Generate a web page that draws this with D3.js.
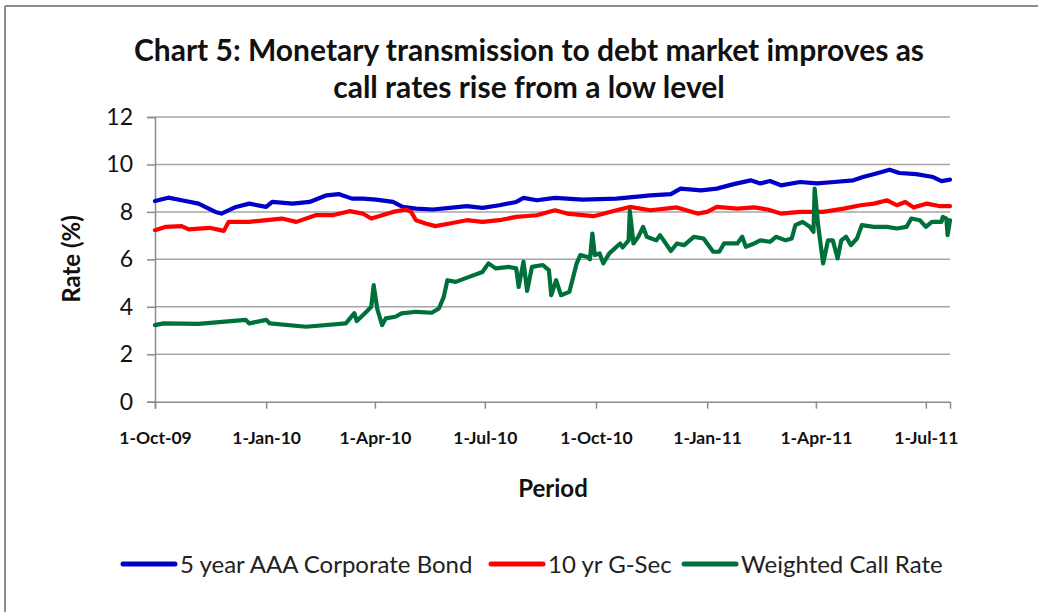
<!DOCTYPE html>
<html><head><meta charset="utf-8">
<script src="https://cdn.jsdelivr.net/npm/d3@7"></script>
<style>html,body{margin:0;padding:0;background:#fff;}svg{display:block;}</style>
</head><body>
<svg id="chart" width="1038" height="612"></svg>
<script>
const titleLines = ["Chart 5: Monetary transmission to debt market improves as", "call rates rise from a low level"];
const seriesNames = ["5 year AAA Corporate Bond", "10 yr G-Sec", "Weighted Call Rate"];
const yTicks = [0, 2, 4, 6, 8, 10, 12];
const xTickDates = ["2009-10-01","2010-01-01","2010-04-01","2010-07-01","2010-10-01","2011-01-01","2011-04-01","2011-07-01"];
const xDomain = ["2009-10-01", "2011-07-21"];

const corpDates = ["2009-10-01","2009-10-12","2009-10-23","2009-11-06","2009-11-20","2009-11-25","2009-12-07","2009-12-18","2010-01-01","2010-01-06","2010-01-23","2010-02-06","2010-02-20","2010-03-02","2010-03-13","2010-03-22","2010-04-02","2010-04-16","2010-04-24","2010-05-05","2010-05-19","2010-06-02","2010-06-16","2010-06-29","2010-07-13","2010-07-27","2010-08-02","2010-08-13","2010-08-28","2010-09-20","2010-10-18","2010-11-15","2010-12-02","2010-12-10","2010-12-27","2011-01-09","2011-01-23","2011-02-06","2011-02-14","2011-02-22","2011-03-03","2011-03-19","2011-04-02","2011-04-16","2011-05-02","2011-05-10","2011-05-21","2011-06-01","2011-06-09","2011-06-23","2011-07-07","2011-07-14","2011-07-21"];
const corpValues = [8.46,8.6,8.49,8.35,8.0,7.93,8.21,8.35,8.21,8.42,8.35,8.42,8.7,8.75,8.56,8.56,8.52,8.42,8.21,8.14,8.1,8.17,8.24,8.17,8.28,8.42,8.59,8.49,8.59,8.52,8.56,8.7,8.75,8.98,8.91,8.98,9.17,9.33,9.2,9.3,9.12,9.26,9.2,9.26,9.33,9.47,9.62,9.78,9.64,9.59,9.47,9.3,9.36];

const gsecDates = ["2009-10-01","2009-10-10","2009-10-23","2009-10-29","2009-11-15","2009-11-27","2009-12-01","2009-12-18","2010-01-14","2010-01-26","2010-02-11","2010-02-25","2010-03-11","2010-03-22","2010-03-29","2010-04-07","2010-04-16","2010-04-27","2010-05-01","2010-05-05","2010-05-13","2010-05-21","2010-06-02","2010-06-16","2010-06-29","2010-07-13","2010-07-27","2010-08-13","2010-08-28","2010-09-07","2010-09-29","2010-10-18","2010-10-29","2010-11-15","2010-12-07","2010-12-24","2011-01-01","2011-01-09","2011-01-26","2011-02-09","2011-02-20","2011-03-03","2011-03-19","2011-04-07","2011-04-24","2011-05-08","2011-05-19","2011-05-30","2011-06-07","2011-06-14","2011-06-21","2011-07-02","2011-07-13","2011-07-21"];
const gsecValues = [7.23,7.37,7.4,7.26,7.33,7.2,7.58,7.58,7.72,7.58,7.86,7.86,8.03,7.93,7.72,7.86,8.0,8.1,8.0,7.65,7.51,7.4,7.51,7.65,7.58,7.65,7.79,7.86,8.07,7.93,7.82,8.07,8.21,8.07,8.19,7.93,8.0,8.21,8.14,8.19,8.1,7.93,8.0,8.0,8.14,8.28,8.35,8.49,8.28,8.42,8.19,8.35,8.24,8.24];

const callDates = ["2009-10-01","2009-10-08","2009-11-06","2009-12-15","2009-12-18","2010-01-01","2010-01-04","2010-02-03","2010-03-08","2010-03-15","2010-03-17","2010-03-25","2010-03-29","2010-03-31","2010-04-03","2010-04-07","2010-04-10","2010-04-18","2010-04-23","2010-05-05","2010-05-18","2010-05-24","2010-05-28","2010-05-31","2010-06-07","2010-06-18","2010-06-29","2010-07-04","2010-07-10","2010-07-21","2010-07-27","2010-07-29","2010-08-02","2010-08-05","2010-08-09","2010-08-18","2010-08-23","2010-08-25","2010-08-29","2010-09-02","2010-09-09","2010-09-15","2010-09-18","2010-09-24","2010-09-26","2010-09-28","2010-09-30","2010-10-04","2010-10-07","2010-10-12","2010-10-21","2010-10-23","2010-10-28","2010-10-29","2010-11-01","2010-11-05","2010-11-09","2010-11-12","2010-11-20","2010-11-23","2010-12-02","2010-12-07","2010-12-13","2010-12-21","2010-12-29","2011-01-03","2011-01-06","2011-01-11","2011-01-15","2011-01-26","2011-01-30","2011-02-02","2011-02-09","2011-02-14","2011-02-22","2011-02-27","2011-03-07","2011-03-12","2011-03-15","2011-03-21","2011-03-27","2011-03-30","2011-03-31","2011-04-03","2011-04-07","2011-04-11","2011-04-15","2011-04-19","2011-04-22","2011-04-26","2011-04-30","2011-05-05","2011-05-09","2011-05-19","2011-05-30","2011-06-07","2011-06-15","2011-06-19","2011-06-26","2011-07-01","2011-07-06","2011-07-14","2011-07-15","2011-07-18","2011-07-19","2011-07-21"];
const callValues = [3.23,3.3,3.28,3.45,3.3,3.45,3.3,3.16,3.3,3.73,3.4,3.79,4.0,4.91,3.9,3.23,3.51,3.58,3.72,3.79,3.75,3.93,4.42,5.12,5.05,5.26,5.47,5.83,5.62,5.68,5.62,4.84,5.9,4.67,5.68,5.76,5.55,4.49,5.12,4.49,4.63,5.83,6.18,6.1,6.0,7.09,6.18,6.25,5.83,6.25,6.67,6.5,6.8,8.05,6.67,6.95,7.37,6.95,6.8,7.02,6.35,6.67,6.6,6.95,6.88,6.53,6.32,6.32,6.67,6.67,6.95,6.53,6.67,6.8,6.74,6.95,6.8,6.88,7.44,7.58,7.37,7.16,8.98,7.37,5.83,6.8,6.8,6.04,6.8,6.95,6.6,6.88,7.44,7.37,7.37,7.3,7.37,7.72,7.65,7.37,7.58,7.58,7.79,7.72,7.02,7.65];

const colors = ["#0000c8", "#ff0000", "#00703a"];
const FONT = "Lato, 'Open Sans', sans-serif";

const parse = d3.utcParse("%Y-%m-%d");
const svg = d3.select("#chart");
const margin = {left:155, right:950, top:117, bottom:401.7};

// outer border
svg.append("line").attr("x1",5).attr("x2",1038).attr("y1",6).attr("y2",6).attr("stroke","#8c8c8c").attr("stroke-width",2);
svg.append("line").attr("x1",5).attr("x2",5).attr("y1",6).attr("y2",612).attr("stroke","#8c8c8c").attr("stroke-width",2);

const x = d3.scaleUtc().domain(xDomain.map(parse)).range([margin.left, margin.right]);
const y = d3.scaleLinear().domain([0, 12]).range([margin.bottom, margin.top]);

// gridlines
svg.append("g").selectAll("line").data(yTicks.filter(t=>t>0)).join("line")
  .attr("x1", margin.left).attr("x2", margin.right)
  .attr("y1", d=>y(d)).attr("y2", d=>y(d))
  .attr("stroke","#a6a6a6").attr("stroke-width",1.5);

// y axis
const yAxis = svg.append("g").attr("transform",`translate(${margin.left},0)`)
  .call(d3.axisLeft(y).tickValues(yTicks).tickSize(8).tickPadding(14).tickFormat(d3.format("d")));
yAxis.select(".domain").attr("stroke","#8c8c8c").attr("stroke-width",1.5);
yAxis.selectAll(".tick line").attr("stroke","#8c8c8c").attr("stroke-width",1.5);
yAxis.selectAll("text").attr("font-family",FONT).attr("font-size",23).attr("fill","#111");

// x axis
const xAxis = svg.append("g").attr("transform",`translate(0,${margin.bottom})`)
  .call(d3.axisBottom(x).tickValues(xTickDates.map(parse)).tickSize(7).tickPadding(23).tickFormat(d3.utcFormat("1-%b-%y")));
xAxis.select(".domain").attr("stroke","#8c8c8c").attr("stroke-width",1.5);
xAxis.selectAll(".tick line").attr("stroke","#8c8c8c").attr("stroke-width",1.5);
xAxis.selectAll("text").attr("font-family",FONT).attr("font-size",17.5).attr("font-weight","bold").attr("fill","#111");

// lines
const series = [
  {dates: corpDates, values: corpValues},
  {dates: gsecDates, values: gsecValues},
  {dates: callDates, values: callValues}
];
const line = d3.line().x(d=>x(d[0])).y(d=>y(d[1]));
series.forEach((s,i)=>{
  const pts = s.dates.map((d,j)=>[parse(d), s.values[j]]);
  svg.append("path").datum(pts).attr("d", line)
    .attr("fill","none").attr("stroke",colors[i]).attr("stroke-width",4.2)
    .attr("stroke-linejoin","round").attr("stroke-linecap","round");
});

// title
svg.append("g").selectAll("text").data(titleLines).join("text")
  .attr("x", 529).attr("y",(d,i)=>61+i*37)
  .attr("text-anchor","middle")
  .attr("font-family",FONT).attr("font-weight","bold").attr("font-size",30).attr("fill","#111")
  .text(d=>d);

// axis titles
svg.append("text").attr("transform","translate(80,259) rotate(-90)").attr("text-anchor","middle")
  .attr("font-family",FONT).attr("font-weight","bold").attr("font-size",24).attr("fill","#111")
  .text("Rate (%)");
svg.append("text").attr("x",553).attr("y",497).attr("text-anchor","middle")
  .attr("font-family",FONT).attr("font-weight","bold").attr("font-size",24).attr("fill","#111")
  .text("Period");

// legend
const legendX = [123, 491, 684];
const lg = svg.append("g").selectAll("g").data(seriesNames).join("g")
  .attr("transform",(d,i)=>`translate(${legendX[i]},564)`);
lg.append("line").attr("x1",0).attr("x2",52).attr("y1",0).attr("y2",0)
  .attr("stroke",(d,i)=>colors[i]).attr("stroke-width",5).attr("stroke-linecap","round");
lg.append("text").attr("x",57).attr("y",8.5)
  .attr("font-family",FONT).attr("font-size",24).attr("fill","#222")
  .text(d=>d);
</script>
</body></html>
